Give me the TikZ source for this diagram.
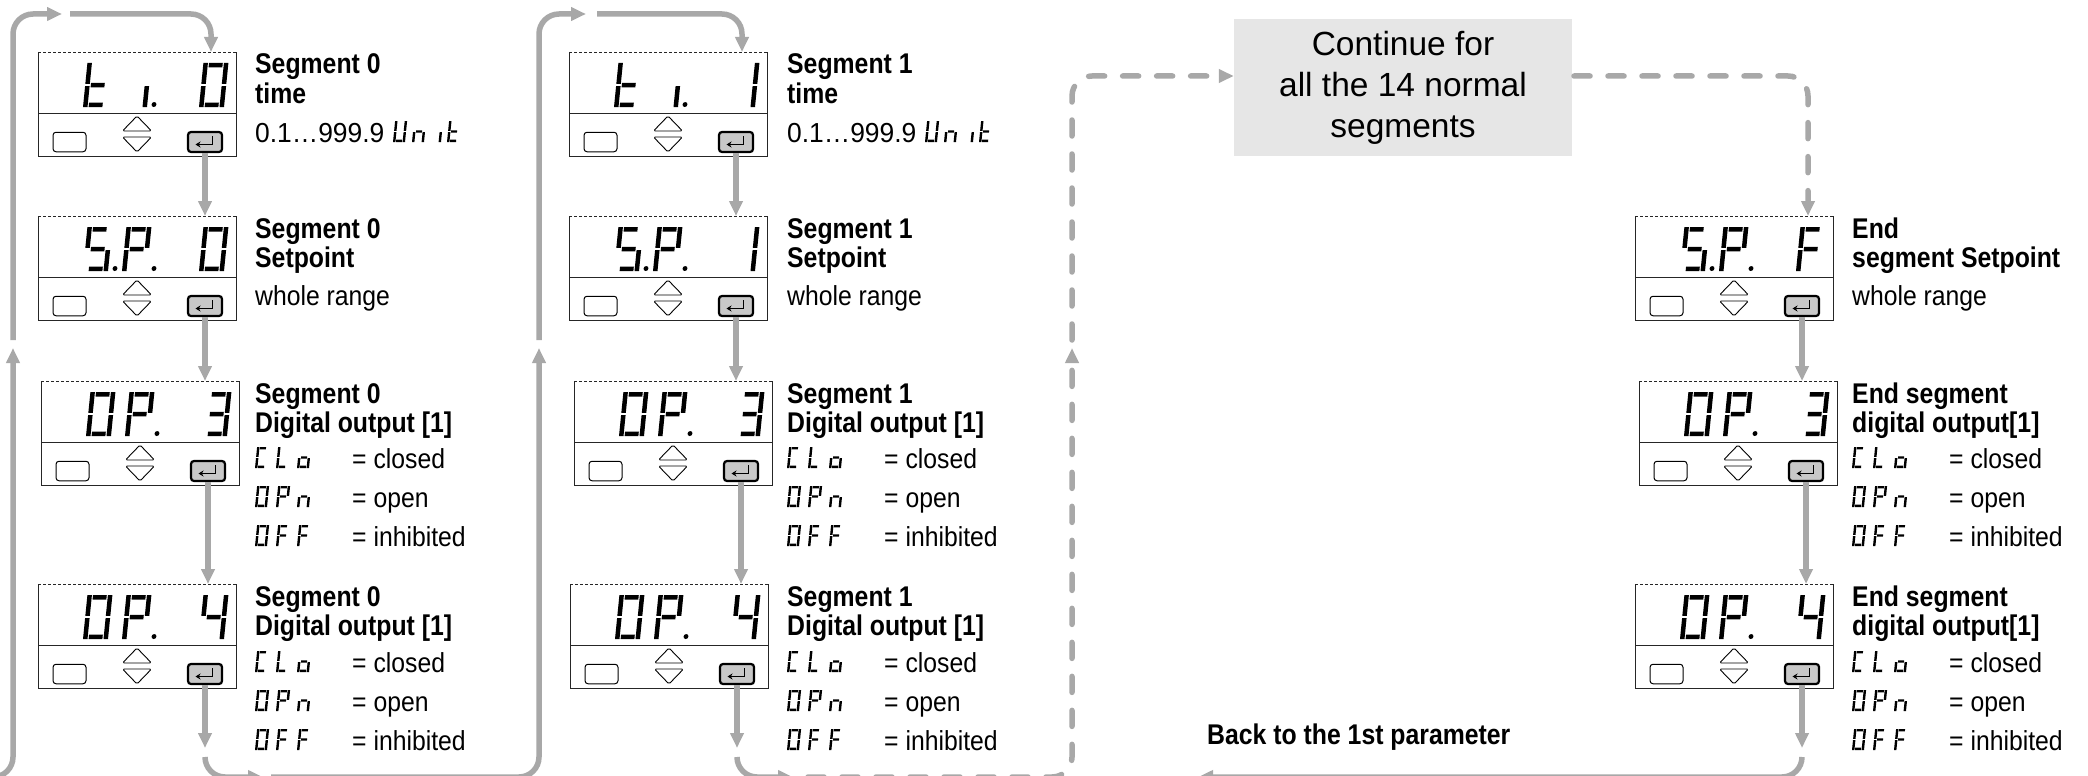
\documentclass[tikz,border=0pt]{standalone}
\usepackage{fontspec}
\setmainfont{Liberation Sans}
\newfontfamily\cndfont{Liberation Sans}[FakeStretch=0.87]
\newfontfamily\valfont{Liberation Sans}[FakeStretch=0.9]
\newfontfamily\numfont{Liberation Sans}[FakeStretch=0.96]
\usetikzlibrary{arrows.meta,calc}
\definecolor{connc}{HTML}{A8A8A8}
\definecolor{btnc}{HTML}{C8C8C8}
\definecolor{contc}{HTML}{E6E6E6}

% seven-segment pieces (local coords: u right, -v up)
\def\sga{\fill ({1.25*\sT},{-\sH}) rectangle ({\sW-1.25*\sT},{-\sH+\sT});}
\def\sgd{\fill ({1.25*\sT},0) rectangle ({\sW-1.25*\sT},{-\sT});}
\def\sgg{\fill ({1.25*\sT},{-\sH/2-\sT/2}) rectangle ({\sW-1.25*\sT},{-\sH/2+\sT/2});}
\def\sgf{\fill (0,{-\sH}) rectangle (\sT,{-\sH/2-0.25*\sT});}
\def\sge{\fill (0,0) rectangle (\sT,{-\sH/2+0.25*\sT});}
\def\sgb{\fill ({\sW-\sT},{-\sH}) rectangle (\sW,{-\sH/2-0.25*\sT});}
\def\sgc{\fill ({\sW-\sT},0) rectangle (\sW,{-\sH/2+0.25*\sT});}
\def\sgp{\fill ({\sW+1.5*\sT},{-0.55*\sT}) circle ({0.55*\sT});}
\def\sgN{}
\newcommand\sevseg[5]{\begin{scope}[shift={#1},xslant=0.1]\def\sH{#2}\def\sW{#3}\def\sT{#4}\foreach \s in {#5}{\csname sg\s\endcsname}\end{scope}}
\newcommand\bseg[2]{\sevseg{#1}{44}{25}{4.5}{#2}}
\newcommand\sseg[2]{\sevseg{#1}{21}{12}{2.4}{#2}}

\tikzset{
  dispbox/.style={rectangle, minimum width=198pt, minimum height=104pt, inner sep=0pt, anchor=north west},
  boxline/.style={line width=0.9pt, draw=black!85},
  sbtn/.style={rectangle, rounded corners=3pt, draw=black, line width=1pt, fill=white, minimum width=33pt, minimum height=19.5pt, inner sep=0pt},
  ebtn/.style={rectangle, rounded corners=3pt, draw=black, line width=2.2pt, fill=btnc, minimum width=34pt, minimum height=20pt, inner sep=0pt},
  tri/.style={draw=black, line width=0.9pt, rounded corners=1.5pt, fill=white},
  conn/.style={draw=connc, line width=5.5pt, rounded corners=20pt, -{Triangle[length=15pt,width=13pt]}},
  dconn/.style={conn, dash pattern=on 16pt off 18pt, line cap=round},
  head/.style={anchor=base west, inner sep=0pt, font=\cndfont\bfseries\fontsize{28.5}{30}\selectfont},
  val/.style={anchor=base west, inner sep=0pt, font=\valfont\fontsize{27.5}{30}\selectfont},
  numval/.style={anchor=base west, inner sep=0pt, font=\numfont\fontsize{27.5}{30}\selectfont},
  contbox/.style={rectangle, fill=contc, minimum width=338pt, minimum height=137pt, inner sep=0pt, align=center, font=\fontsize{33.5}{41}\selectfont},
}

\newcommand\disp[6]{%
  \node[dispbox] (#1) at (#2) {};
  \draw[boxline] (#1.north west) -- (#1.south west) -- (#1.south east) -- (#1.north east);
  \draw[boxline, dash pattern=on 3pt off 2pt] (#1.north west) -- (#1.north east);
  \draw[boxline] ($(#1.north west)+(0,61)$) -- ($(#1.north east)+(0,61)$);
  \node[sbtn] (#1l) at ($(#1.north west)+(31.5,90)$) {};
  \node[ebtn] (#1e) at ($(#1.north west)+(167,90)$) {};
  \draw[line width=1.5pt,-{Stealth[length=5pt,width=6pt]}] ($(#1e.center)+(7.5,-6)$) -- ($(#1e.center)+(7.5,2.5)$) -- ($(#1e.center)+(-9.5,2.5)$);
  \draw[tri] ($(#1.north west)+(99,64)$) -- ($(#1.north west)+(113.5,79)$) -- ($(#1.north west)+(84.5,79)$) -- cycle;
  \draw[tri] ($(#1.north west)+(84.5,85)$) -- ($(#1.north west)+(113.5,85)$) -- ($(#1.north west)+(99,100)$) -- cycle;
  \bseg{($(#1.north west)+(45,55)$)}{#3}
  \bseg{($(#1.north west)+(84,55)$)}{#4}
  \bseg{($(#1.north west)+(122,55)$)}{#5}
  \bseg{($(#1.north west)+(161,55)$)}{#6}
}

\newcommand\rows[3]{%
  \node[val] (#1a) at ({#2+97},{#3}) {= closed};
  \node[val] (#1b) at ({#2+97},{#3+39}) {= open};
  \node[val] (#1c) at ({#2+97},{#3+78}) {= inhibited};
  \sseg{(#2,#3)}{a,d,e,f}\sseg{({#2+21},#3)}{d,e,f}\sseg{({#2+42},#3)}{c,d,e,g}
  \sseg{(#2,{#3+39})}{a,b,c,d,e,f}\sseg{({#2+21},{#3+39})}{a,b,e,f,g}\sseg{({#2+42},{#3+39})}{c,e,g}
  \sseg{(#2,{#3+78})}{a,b,c,d,e,f}\sseg{({#2+21},{#3+78})}{a,e,f,g}\sseg{({#2+42},{#3+78})}{a,e,f,g}
}

\newcommand\unitseg[1]{%
  \sseg{($(#1.base west)+(138,0)$)}{b,c,d,e,f}
  \sseg{($(#1.base west)+(157,0)$)}{c,e,g}
  \sseg{($(#1.base west)+(174,0)$)}{c}
  \sseg{($(#1.base west)+(192,0)$)}{d,e,f,g}
}

\begin{document}
\begin{tikzpicture}[x=1pt,y=-1pt]
\clip (0,0) rectangle (2088,776);
\fill[white] (0,0) rectangle (2088,776);

% ---------- displays ----------
\disp{b11}{38,52}{d,e,f,g}{c,p}{N}{a,b,c,d,e,f}
\disp{b12}{38,216}{a,f,g,c,d,p}{a,b,e,f,g,p}{N}{a,b,c,d,e,f}
\disp{b13}{41,381}{a,b,c,d,e,f}{a,b,e,f,g,p}{N}{a,b,c,d,g}
\disp{b14}{38,584}{a,b,c,d,e,f}{a,b,e,f,g,p}{N}{b,c,f,g}

\disp{b21}{569,52}{d,e,f,g}{c,p}{N}{b,c}
\disp{b22}{569,216}{a,f,g,c,d,p}{a,b,e,f,g,p}{N}{b,c}
\disp{b23}{574,381}{a,b,c,d,e,f}{a,b,e,f,g,p}{N}{a,b,c,d,g}
\disp{b24}{570,584}{a,b,c,d,e,f}{a,b,e,f,g,p}{N}{b,c,f,g}

\disp{b32}{1635,216}{a,f,g,c,d,p}{a,b,e,f,g,p}{N}{a,e,f,g}
\disp{b33}{1639,381}{a,b,c,d,e,f}{a,b,e,f,g,p}{N}{a,b,c,d,g}
\disp{b34}{1635,584}{a,b,c,d,e,f}{a,b,e,f,g,p}{N}{b,c,f,g}

% ---------- texts column 1 ----------
\node[head] (h11a) at (255,74) {Segment 0};
\node[head] (h11b) at (255,103) {time};
\node[numval] (v11) at (255,142) {0.1…999.9};
\unitseg{v11}
\node[head] (h12a) at (255,238) {Segment 0};
\node[head] (h12b) at (255,267) {Setpoint};
\node[val] (v12) at (255,305) {whole range};
\node[head] (h13a) at (255,403) {Segment 0};
\node[head] (h13b) at (255,432) {Digital output [1]};
\rows{r13}{255}{468}
\node[head] (h14a) at (255,606) {Segment 0};
\node[head] (h14b) at (255,635) {Digital output [1]};
\rows{r14}{255}{672}

% ---------- texts column 2 ----------
\node[head] (h21a) at (787,74) {Segment 1};
\node[head] (h21b) at (787,103) {time};
\node[numval] (v21) at (787,142) {0.1…999.9};
\unitseg{v21}
\node[head] (h22a) at (787,238) {Segment 1};
\node[head] (h22b) at (787,267) {Setpoint};
\node[val] (v22) at (787,305) {whole range};
\node[head] (h23a) at (787,403) {Segment 1};
\node[head] (h23b) at (787,432) {Digital output [1]};
\rows{r23}{787}{468}
\node[head] (h24a) at (787,606) {Segment 1};
\node[head] (h24b) at (787,635) {Digital output [1]};
\rows{r24}{787}{672}

% ---------- texts column 3 ----------
\node[head] (h32a) at (1852,238) {End};
\node[head] (h32b) at (1852,267) {segment Setpoint};
\node[val] (v32) at (1852,305) {whole range};
\node[head] (h33a) at (1852,403) {End segment};
\node[head] (h33b) at (1852,432) {digital output[1]};
\rows{r33}{1852}{468}
\node[head] (h34a) at (1852,606) {End segment};
\node[head] (h34b) at (1852,635) {digital output[1]};
\rows{r34}{1852}{672}

\node[contbox] (cont) at (1403,87.5) {Continue for\\all the 14 normal\\segments};
\node[head] (back) at (1207,744) {Back to the 1st parameter};

% ---------- helper levels ----------
\coordinate (yB) at (0,748);
\coordinate (yR) at (0,757);
\coordinate (yBot) at (0,777);

% ---------- connectors column 1 ----------
\coordinate (L1s) at (-40,777);
\coordinate (L1c) at (13,777);
\coordinate (L1t) at (13,348);
\draw[conn] (L1s) -- (L1c) -- (L1t);
\coordinate (L1u) at (13,340);
\coordinate (L1k) at (13,14);
\coordinate (L1r) at (62,14);
\draw[conn] (L1u) -- (L1k) -- (L1r);
\coordinate (T1s) at (70,14);
\coordinate (T1k) at (211,14);
\draw[conn] (T1s) -- (T1k) -- (T1k |- b11.north);
\draw[conn] (b11e.south) -- (b11e.south |- b12.north);
\draw[conn] (b12e.south) -- (b12e.south |- b13.north);
\draw[conn] (b13e.south) -- (b13e.south |- b14.north);
\draw[conn] (b14e.south) -- (b14e.south |- yB);
\coordinate (A1) at (263,777);
\draw[conn] (b14e.south |- yR) -- (b14e.south |- yBot) -- (A1);
\coordinate (A2) at (271,777);
\coordinate (C2c) at (539,777);
\coordinate (C2t) at (539,348);
\draw[conn] (A2) -- (C2c) -- (C2t);

% ---------- connectors column 2 ----------
\coordinate (L2u) at (539,340);
\coordinate (L2k) at (539,14);
\coordinate (L2r) at (586,14);
\draw[conn] (L2u) -- (L2k) -- (L2r);
\coordinate (T2s) at (597,14);
\coordinate (T2k) at (742,14);
\draw[conn] (T2s) -- (T2k) -- (T2k |- b21.north);
\draw[conn] (b21e.south) -- (b21e.south |- b22.north);
\draw[conn] (b22e.south) -- (b22e.south |- b23.north);
\draw[conn] (b23e.south) -- (b23e.south |- b24.north);
\draw[conn] (b24e.south) -- (b24e.south |- yB);
\coordinate (A3) at (793,777);
\draw[conn] (b24e.south |- yR) -- (b24e.south |- yBot) -- (A3);
\coordinate (D1s) at (808,777);
\coordinate (D1c) at (1072,777);
\coordinate (D1t) at (1072,348);
\draw[dconn] (D1s) -- (D1c) -- (D1t);
\coordinate (D2s) at (1072,340);
\coordinate (D2c) at (1072,76);
\draw[dconn] (D2s) -- (D2c) -- (D2c -| cont.west);
\coordinate (D3s) at (1574,76);
\coordinate (D3c) at (1808,76);
\draw[dconn] (D3s) -- (D3c) -- (D3c |- b32.north);

% ---------- connectors column 3 ----------
\draw[conn] (b32e.south) -- (b32e.south |- b33.north);
\draw[conn] (b33e.south) -- (b33e.south |- b34.north);
\draw[conn] (b34e.south) -- (b34e.south |- yB);
\coordinate (A4) at (1198,777);
\draw[conn] (b34e.south |- yR) -- (b34e.south |- yBot) -- (A4);
\end{tikzpicture}
\end{document}
